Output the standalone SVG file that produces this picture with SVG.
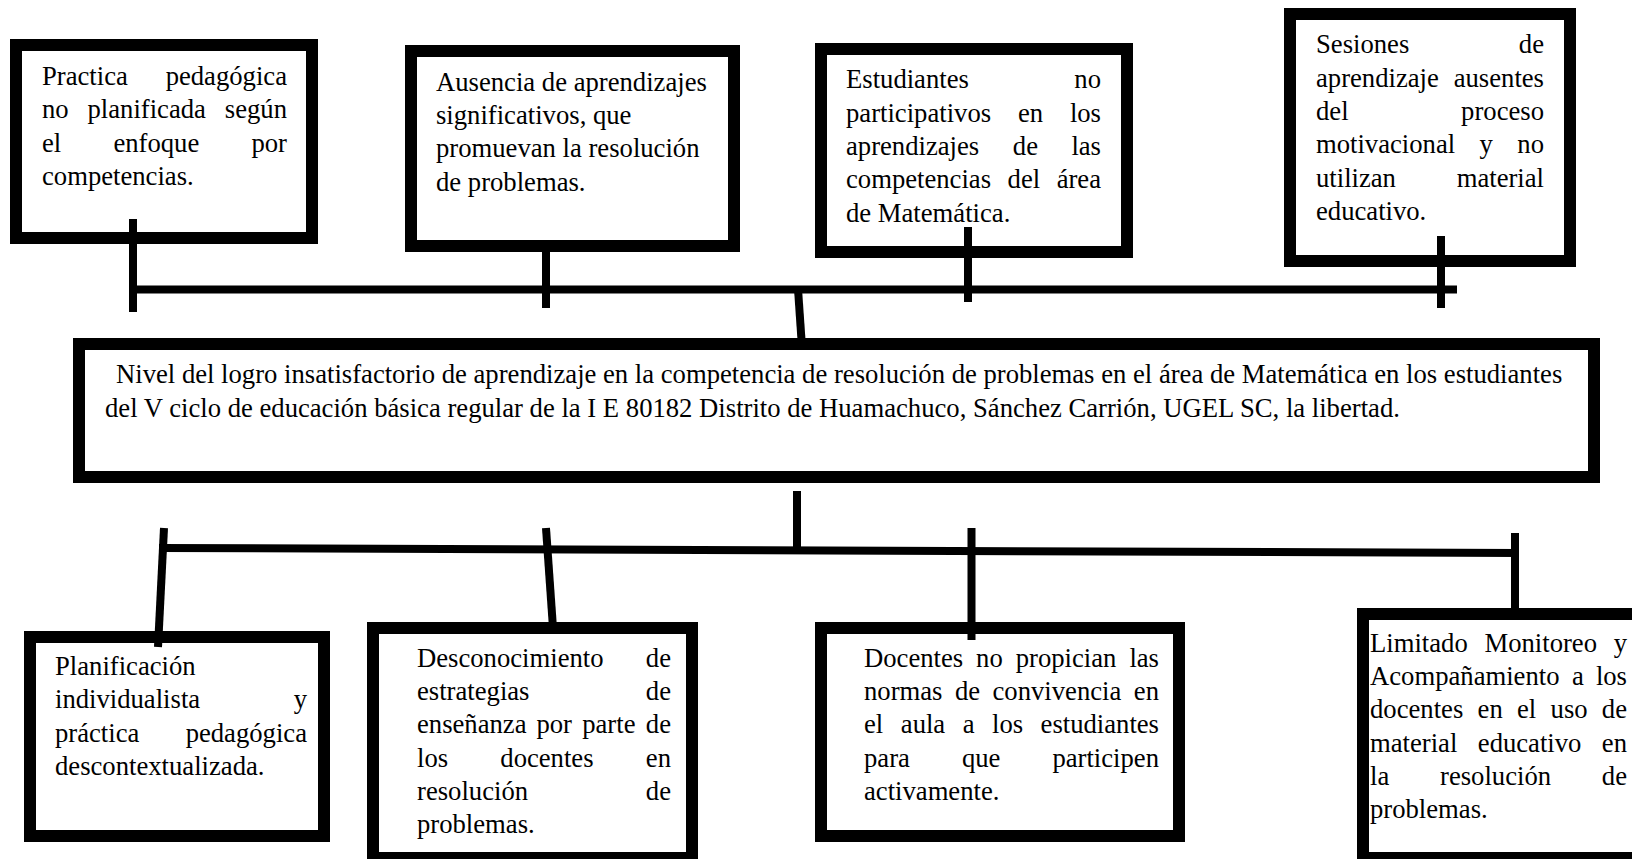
<svg xmlns="http://www.w3.org/2000/svg" width="1632" height="859" viewBox="0 0 1632 859">
<style>
.box{fill:#fff;stroke:#000;stroke-width:12}
.t{font-family:"Liberation Serif","Times New Roman",serif;font-size:26.67px;fill:#000}
.e{text-anchor:end}
.c{stroke:#000;stroke-width:8;fill:none}
</style>
<rect width="1632" height="859" fill="#fff"/>
<g id="n1">
<rect class="box" x="16" y="45" width="296" height="193"/>
<text class="t" x="42" y="85">Practica</text><text class="t e" x="287" y="85">pedagógica</text>
<text class="t" y="118.3"><tspan x="42">no</tspan><tspan x="87.5">planificada</tspan></text><text class="t e" x="287" y="118.3">según</text>
<text class="t" y="151.7"><tspan x="42">el</tspan><tspan x="113.4">enfoque</tspan></text><text class="t e" x="287" y="151.7">por</text>
<text class="t" x="42" y="185">competencias.</text>
</g>
<g id="n2">
<rect class="box" x="411" y="51" width="323" height="195"/>
<text class="t" x="436" y="90.7">Ausencia de aprendizajes</text>
<text class="t" x="436" y="124">significativos, que</text>
<text class="t" x="436" y="157.3">promuevan la resolución</text>
<text class="t" x="436" y="190.7">de problemas.</text>
</g>
<g id="n3">
<rect class="box" x="821" y="49" width="306" height="203"/>
<text class="t" x="846" y="88.3">Estudiantes</text><text class="t e" x="1101" y="88.3">no</text>
<text class="t" y="121.7"><tspan x="846">participativos</tspan><tspan x="1018">en</tspan></text><text class="t e" x="1101" y="121.7">los</text>
<text class="t" y="155"><tspan x="846">aprendizajes</tspan><tspan x="1012.8">de</tspan></text><text class="t e" x="1101" y="155">las</text>
<text class="t" y="188.3"><tspan x="846">competencias</tspan><tspan x="1007.6">del</tspan></text><text class="t e" x="1101" y="188.3">área</text>
<text class="t" x="846" y="221.7">de Matemática.</text>
</g>
<g id="n4">
<rect class="box" x="1290" y="14" width="280" height="247"/>
<text class="t" x="1316" y="53.3">Sesiones</text><text class="t e" x="1544" y="53.3">de</text>
<text class="t" x="1316" y="86.7">aprendizaje</text><text class="t e" x="1544" y="86.7">ausentes</text>
<text class="t" x="1316" y="120">del</text><text class="t e" x="1544" y="120">proceso</text>
<text class="t" y="153.3"><tspan x="1316">motivacional</tspan><tspan x="1479.6">y</tspan></text><text class="t e" x="1544" y="153.3">no</text>
<text class="t" x="1316" y="186.7">utilizan</text><text class="t e" x="1544" y="186.7">material</text>
<text class="t" x="1316" y="220">educativo.</text>
</g>
<g id="main">
<rect class="box" x="79" y="344" width="1515" height="133"/>
<text class="t" x="116" y="383.3">Nivel del logro insatisfactorio de aprendizaje en la competencia de resolución de problemas en el área de Matemática en los estudiantes</text>
<text class="t" x="105" y="416.7">del V ciclo de educación básica regular de la I E 80182 Distrito de Huamachuco, Sánchez Carrión, UGEL SC, la libertad.</text>
</g>
<g id="n5">
<rect class="box" x="30" y="637" width="294" height="199"/>
<text class="t" x="55" y="675">Planificación</text>
<text class="t" x="55" y="708.3">individualista</text><text class="t e" x="307" y="708.3">y</text>
<text class="t" x="55" y="741.7">práctica</text><text class="t e" x="307" y="741.7">pedagógica</text>
<text class="t" x="55" y="775">descontextualizada.</text>
</g>
<g id="n6">
<rect class="box" x="373" y="628" width="319" height="230"/>
<text class="t" x="417" y="666.7">Desconocimiento</text><text class="t e" x="671" y="666.7">de</text>
<text class="t" x="417" y="700">estrategias</text><text class="t e" x="671" y="700">de</text>
<text class="t" y="733.3"><tspan x="417">enseñanza</tspan><tspan x="536.4">por</tspan><tspan x="582.2">parte</tspan></text><text class="t e" x="671" y="733.3">de</text>
<text class="t" y="766.7"><tspan x="417">los</tspan><tspan x="500.3">docentes</tspan></text><text class="t e" x="671" y="766.7">en</text>
<text class="t" x="417" y="800">resolución</text><text class="t e" x="671" y="800">de</text>
<text class="t" x="417" y="833.3">problemas.</text>
</g>
<g id="n7">
<rect class="box" x="821" y="628" width="358" height="208"/>
<text class="t" y="666.7"><tspan x="864">Docentes</tspan><tspan x="976.1">no</tspan><tspan x="1015.7">propician</tspan></text><text class="t e" x="1159" y="666.7">las</text>
<text class="t" y="700"><tspan x="864">normas</tspan><tspan x="954.9">de</tspan><tspan x="992.5">convivencia</tspan></text><text class="t e" x="1159" y="700">en</text>
<text class="t" y="733.3"><tspan x="864">el</tspan><tspan x="900.8">aula</tspan><tspan x="962.7">a</tspan><tspan x="992">los</tspan></text><text class="t e" x="1159" y="733.3">estudiantes</text>
<text class="t" y="766.7"><tspan x="864">para</tspan><tspan x="961.9">que</tspan></text><text class="t e" x="1159" y="766.7">participen</text>
<text class="t" x="864" y="800">activamente.</text>
</g>
<g id="n8">
<rect class="box" x="1363" y="614" width="300" height="244"/>
<text class="t" y="651.7"><tspan x="1370">Limitado</tspan><tspan x="1484.5">Monitoreo</tspan></text><text class="t e" x="1627" y="651.7">y</text>
<text class="t" y="685"><tspan x="1370">Acompañamiento</tspan><tspan x="1571.9">a</tspan></text><text class="t e" x="1627" y="685">los</text>
<text class="t" y="718.3"><tspan x="1370">docentes</tspan><tspan x="1477.6">en</tspan><tspan x="1517">el</tspan><tspan x="1550.6">uso</tspan></text><text class="t e" x="1627" y="718.3">de</text>
<text class="t" y="751.7"><tspan x="1370">material</tspan><tspan x="1477.8">educativo</tspan></text><text class="t e" x="1627" y="751.7">en</text>
<text class="t" y="785"><tspan x="1370">la</tspan><tspan x="1440">resolución</tspan></text><text class="t e" x="1627" y="785">de</text>
<text class="t" x="1370" y="818.3">problemas.</text>
</g>
<g id="connectors">
<path class="c" d="M129 289.5 H1457"/>
<path class="c" d="M133 219 V312"/>
<path class="c" d="M546 246 V308"/>
<path class="c" d="M968 227 V302"/>
<path class="c" d="M1441 236 V308"/>
<path class="c" d="M798 289 L801.5 340"/>
<path class="c" d="M797 491 V549"/>
<path class="c" d="M159 548 L1519 553"/>
<path class="c" d="M164 528 L158 647"/>
<path class="c" d="M546 528 L553 628"/>
<path class="c" d="M971.5 528 V640"/>
<path class="c" d="M1515 533 V620"/>
</g>
</svg>
